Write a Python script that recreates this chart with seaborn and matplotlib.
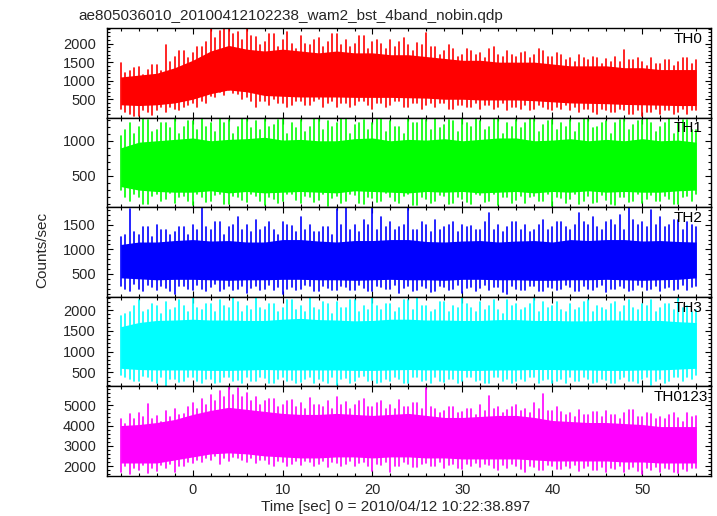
import numpy as np
import pandas as pd
import seaborn as sns
import matplotlib
matplotlib.use("Agg")
import matplotlib.pyplot as plt
from matplotlib.ticker import FixedLocator, MultipleLocator

TITLE = "ae805036010_20100412102238_wam2_bst_4band_nobin.qdp"
XLABEL = "Time [sec] 0 = 2010/04/12 10:22:38.897"
YLABEL = "Counts/sec"

bands = ["TH0", "TH1", "TH2", "TH3", "TH0123"]
colors = ["#ff0000", "#00ff00", "#0000ff", "#00ffff", "#ff00ff"]

# spikes (peak / dip) every 0.5 s, dense core every 2 s
half_seconds = [s / 2 for s in range(-16, 113)]
core_times = list(range(-8, 57, 2))

th0_peak = [1480, 1200, 1250, 1350, 1380, 1150, 1300, 1420, 1420, 1250,
            1970, 1500, 1650, 1800, 1800, 1600, 1750, 1900, 1900, 2050,
            2400, 2150, 2350, 2420, 2420, 2250, 2300, 2100, 2380, 2200,
            2180, 1950, 2050, 2250, 2250, 1900, 2100, 2300, 2000, 1850,
            2200, 2000, 1950, 2100, 2150, 1900, 2050, 2250, 2250, 1950,
            2100, 1900, 2000, 2200, 2200, 1850, 2050, 2100, 1980, 1850,
            2100, 1900, 2050, 2150, 1950, 1800, 2020, 1950, 2280, 1900,
            1900, 1700, 1800, 1950, 1850, 1650, 1700, 1850, 1800, 1700,
            1750, 1600, 1850, 1900, 1700, 1650, 1800, 1700, 1650, 1750,
            1780, 1600, 1700, 1850, 1800, 1650, 1650, 1750, 1700, 1550,
            1600, 1500, 1680, 1600, 1550, 1650, 1620, 1450, 1580, 1500,
            1650, 1500, 1820, 1550, 1550, 1600, 1500, 1400, 1600, 1450,
            1450, 1550, 1550, 1400, 1500, 1600, 1600, 1450, 1550]
th0_dip = [250, 150, 100, 50, 50, 200, 150, 80, 200, 300,
           150, 300, 250, 200, 300, 350, 400, 300, 450, 400,
           600, 550, 700, 620, 750, 680, 650, 500, 550, 450,
           300, 450, 450, 350, 500, 400, 400, 300, 350, 450,
           450, 350, 350, 450, 500, 300, 400, 450, 300, 400,
           400, 300, 350, 450, 450, 350, 250, 400, 400, 300,
           350, 450, 450, 300, 300, 400, 400, 250, 350, 400,
           300, 400, 400, 250, 250, 350, 350, 300, 300, 400,
           250, 350, 350, 250, 300, 400, 200, 300, 300, 250,
           350, 200, 250, 350, 300, 250, 200, 300, 250, 350,
           200, 300, 150, 250, 250, 150, 100, 250, 200, 150,
           150, 250, 200, 100, 100, 200, 50, 150, 150, 250,
           100, 200, 200, 100, 150, 250, 100, 200, 200]
th0_core_hi = [1100, 1150, 1200, 1350, 1550, 1800, 1950, 1850, 1800, 1850,
               1800, 1750, 1800, 1750, 1750, 1700, 1700, 1650, 1600, 1550,
               1550, 1500, 1500, 1500, 1450, 1400, 1400, 1400, 1350, 1350,
               1300, 1300, 1300]
th0_core_lo = [350, 330, 350, 400, 500, 650, 750, 700, 600, 580,
               560, 560, 560, 550, 550, 550, 540, 530, 500, 500,
               480, 480, 480, 460, 430, 400, 390, 380, 360, 350,
               340, 330, 330]

th1_peak = [1070, 1150, 1250, 1100, 1200, 1330, 1300, 1120, 1150, 1250,
            1250, 1180, 1330, 1100, 1200, 1280, 1280, 1150, 1330, 1200,
            1250, 1120, 1330, 1250, 1300, 1100, 1200, 1330, 1330, 1180,
            1280, 1150, 1330, 1200, 1220, 1300, 1330, 1100, 1250, 1180,
            1300, 1120, 1200, 1330, 1330, 1150, 1280, 1200, 1250, 1330,
            1330, 1100, 1220, 1250, 1300, 1150, 1250, 1330, 1330, 1120,
            1280, 1200, 1200, 1100, 1330, 1250, 1250, 1330, 1300, 1150,
            1330, 1180, 1220, 1300, 1280, 1120, 1330, 1250, 1200, 1330,
            1280, 1150, 1200, 1330, 1330, 1100, 1250, 1200, 1300, 1180,
            1250, 1330, 1330, 1120, 1220, 1280, 1300, 1150, 1250, 1200,
            1300, 1120, 1250, 1330, 1330, 1180, 1200, 1250, 1280, 1100,
            1250, 1300, 1330, 1150, 1220, 1280, 1300, 1330, 1250, 1120,
            1200, 1250, 1330, 1100, 1250, 1300, 1300, 1150, 1150]
th1_dip = [300, 200, 150, 250, 200, 100, 100, 220, 250, 150,
           180, 260, 120, 200, 220, 150, 90, 240, 200, 130,
           150, 230, 250, 100, 100, 210, 200, 160, 130, 240,
           220, 140, 90, 200, 180, 110, 150, 250, 240, 160,
           110, 220, 200, 130, 160, 250, 80, 190, 210, 120,
           150, 240, 230, 110, 100, 200, 190, 130, 140, 260,
           200, 150, 120, 220, 250, 90, 90, 200, 170, 120,
           140, 230, 210, 100, 110, 200, 180, 130, 100, 240,
           230, 130, 150, 250, 90, 200, 200, 110, 160, 220,
           120, 200, 220, 150, 140, 250, 80, 200, 190, 110,
           170, 250, 100, 140, 210, 120, 130, 230, 160, 100,
           90, 200, 200, 130, 150, 240, 110, 170, 230, 150,
           140, 220, 180, 100, 100, 200, 210, 150, 250]
th1_core_hi = [900, 980, 1000, 1020, 1040, 1000, 1020, 1030, 1050, 1010,
               1020, 1000, 1000, 1030, 1040, 1000, 1020, 1010, 1030, 1000,
               1020, 1040, 1040, 1000, 1010, 1030, 1000, 1020, 1000, 1030,
               1000, 1010, 980]
th1_core_lo = [350, 300, 280, 270, 270, 290, 260, 280, 260, 270,
               280, 270, 260, 290, 280, 270, 260, 280, 270, 280,
               260, 270, 280, 260, 280, 270, 290, 270, 280, 270,
               270, 290, 300]

th2_peak = [1250, 1300, 1820, 1350, 1300, 1450, 1450, 1250, 1500, 1400,
            1400, 1300, 1350, 1450, 1450, 1300, 1500, 1400, 1850, 1450,
            1400, 1550, 1550, 1300, 1450, 1500, 1650, 1400, 1500, 1350,
            1600, 1400, 1450, 1550, 1400, 1300, 1550, 1500, 1480, 1350,
            1650, 1400, 1500, 1350, 1350, 1450, 1450, 1300, 1820, 1500,
            1840, 1400, 1500, 1350, 1600, 1500, 1850, 1400, 1650, 1450,
            1550, 1400, 1450, 1500, 1850, 1400, 1400, 1550, 1500, 1350,
            1600, 1400, 1450, 1500, 1550, 1350, 1500, 1450, 1480, 1400,
            1400, 1550, 1750, 1400, 1500, 1350, 1450, 1550, 1550, 1400,
            1500, 1350, 1400, 1500, 1600, 1400, 1450, 1550, 1550, 1450,
            1400, 1500, 1750, 1550, 1500, 1650, 1450, 1400, 1550, 1600,
            1500, 1700, 1400, 1850, 1600, 1500, 1550, 1450, 1800, 1500,
            1650, 1450, 1500, 1600, 1600, 1400, 1550, 1500, 1450]
th2_dip = [250, 200, 150, 300, 200, 150, 280, 230, 180, 250,
           220, 150, 100, 250, 250, 200, 180, 280, 200, 150,
           230, 300, 150, 200, 260, 180, 200, 250, 120, 220,
           250, 180, 200, 280, 180, 230, 90, 200, 230, 170,
           200, 280, 260, 150, 150, 250, 220, 180, 180, 260,
           240, 170, 170, 280, 210, 150, 150, 260, 230, 190,
           200, 270, 110, 220, 250, 150, 180, 260, 220, 140,
           160, 250, 230, 180, 190, 280, 120, 210, 240, 160,
           210, 280, 170, 230, 230, 140, 100, 250, 200, 170,
           180, 260, 250, 150, 150, 230, 220, 170, 190, 270,
           230, 150, 160, 250, 200, 180, 240, 280, 130, 200,
           200, 250, 220, 160, 170, 280, 240, 180, 190, 260,
           150, 220, 230, 170, 200, 280, 180, 230, 250]
th2_core_hi = [1100, 1150, 1150, 1180, 1200, 1170, 1180, 1150, 1150, 1200,
               1200, 1170, 1150, 1180, 1180, 1200, 1200, 1160, 1150, 1170,
               1180, 1150, 1170, 1180, 1150, 1200, 1180, 1200, 1200, 1170,
               1180, 1160, 1150]
th2_core_lo = [420, 400, 380, 390, 390, 380, 370, 380, 380, 390,
               390, 380, 380, 370, 380, 390, 380, 380, 370, 390,
               390, 380, 380, 370, 370, 380, 380, 390, 380, 370,
               380, 390, 420]

th3_peak = [1850, 1900, 1950, 2100, 2250, 1950, 2000, 2150, 2100, 1900,
            2200, 2000, 2050, 2250, 2100, 1950, 2300, 2050, 2000, 2150,
            2150, 1950, 2250, 2100, 2050, 2300, 2200, 1950, 2100, 2000,
            2300, 2050, 2000, 2150, 2150, 1950, 2050, 2250, 2250, 2000,
            2100, 1950, 2300, 2050, 2000, 2200, 2150, 1900, 2200, 2050,
            2050, 2250, 2250, 1950, 2100, 2000, 2300, 2100, 2000, 2150,
            2150, 1950, 2050, 2250, 2250, 2000, 2300, 2100, 2100, 1950,
            2000, 2200, 2200, 1950, 2100, 2050, 2300, 2150, 2050, 1950,
            2200, 2000, 2100, 2250, 2000, 1900, 2250, 2100, 2150, 2000,
            2050, 2150, 2300, 1950, 2200, 2050, 2100, 2200, 2000, 1950,
            2150, 2000, 2050, 2200, 2250, 1950, 2100, 2050, 2000, 2150,
            2200, 1950, 2100, 2250, 2050, 2000, 2150, 2100, 2250, 1950,
            2050, 2150, 2150, 2000, 2300, 2050, 2100, 1950, 2000]
th3_dip = [450, 400, 350, 300, 300, 420, 400, 300, 250, 380,
           180, 350, 350, 280, 300, 400, 400, 300, 250, 350,
           350, 250, 280, 400, 400, 300, 320, 250, 380, 300,
           300, 400, 370, 250, 250, 350, 400, 300, 330, 250,
           280, 350, 380, 250, 350, 300, 250, 400, 200, 350,
           370, 250, 300, 400, 420, 300, 330, 250, 280, 350,
           300, 400, 350, 250, 250, 380, 380, 300, 320, 250,
           400, 300, 280, 350, 350, 250, 300, 400, 380, 300,
           330, 250, 250, 380, 400, 300, 350, 250, 290, 350,
           300, 400, 380, 250, 320, 350, 250, 300, 350, 250,
           400, 300, 300, 380, 350, 250, 280, 350, 330, 250,
           250, 350, 380, 300, 300, 250, 350, 400, 200, 300,
           350, 250, 300, 380, 380, 300, 400, 350, 450]
th3_core_hi = [1600, 1700, 1750, 1760, 1780, 1760, 1760, 1750, 1750, 1780,
               1800, 1770, 1760, 1740, 1750, 1780, 1780, 1760, 1760, 1750,
               1750, 1770, 1770, 1750, 1750, 1740, 1740, 1760, 1760, 1750,
               1750, 1720, 1700]
th3_core_lo = [600, 570, 560, 560, 560, 550, 550, 560, 570, 560,
               560, 560, 560, 550, 550, 560, 570, 560, 560, 550,
               550, 560, 560, 570, 570, 560, 560, 550, 550, 560,
               560, 580, 600]

sum_peak = [4300, 4100, 4550, 4300, 4600, 4400, 5050, 4300, 4450, 4200,
            4700, 4400, 4800, 4500, 4550, 4900, 5100, 4800, 5300, 5000,
            5500, 5200, 5700, 5400, 5900, 5500, 5850, 5400, 5600, 5200,
            5400, 5000, 5200, 5300, 5300, 4900, 5000, 5200, 5250, 4900,
            5100, 4800, 5350, 5000, 5000, 4900, 5200, 4800, 5400, 5000,
            5150, 4800, 5000, 5200, 5300, 4900, 4900, 5100, 5200, 4800,
            5000, 4800, 5250, 4900, 4900, 5100, 5100, 4800, 5870, 4900,
            4800, 4600, 4700, 4900, 4900, 4600, 4650, 4800, 4800, 4500,
            5000, 4700, 5450, 4800, 4900, 4600, 4750, 4900, 5000, 4700,
            4800, 4600, 5100, 4800, 5570, 4700, 4700, 4900, 4650, 4500,
            4600, 4400, 4750, 4500, 4500, 4650, 4650, 4400, 4700, 4500,
            4500, 4300, 4600, 4750, 4750, 4400, 4400, 4600, 4550, 4300,
            4400, 4300, 4500, 4600, 4350, 4200, 4600, 4400, 4450]
sum_dip = [1700, 2000, 1600, 1900, 1800, 2050, 1650, 1900, 1750, 2050,
           1900, 2100, 1700, 2000, 2000, 2200, 2150, 2300, 2200, 2400,
           2300, 2500, 2100, 2400, 2250, 2450, 2400, 2300, 2200, 2400,
           2150, 2300, 2300, 2100, 2000, 2250, 2200, 2000, 2100, 2250,
           2050, 2250, 2200, 2000, 2100, 2250, 1950, 2200, 2150, 2000,
           2100, 2250, 2000, 2150, 2200, 2000, 1750, 2100, 2050, 2200,
           1700, 2000, 2000, 2200, 2100, 1950, 1950, 2100, 2150, 2000,
           2000, 2200, 1900, 2050, 2100, 1900, 1850, 2100, 2000, 2150,
           1950, 2100, 2050, 1900, 1800, 2050, 1900, 2100, 2000, 1850,
           1700, 2000, 1950, 1800, 1800, 2050, 2000, 1850, 1850, 2000,
           1900, 2050, 1750, 1900, 2000, 1800, 1800, 1950, 1700, 1900,
           1850, 2000, 1700, 1850, 1950, 1750, 1600, 1900, 1800, 1950,
           1700, 1900, 1850, 1700, 1650, 1850, 1750, 1900, 1900]
sum_core_hi = [4000, 4050, 4150, 4300, 4550, 4750, 4900, 4800, 4700, 4600,
               4550, 4550, 4600, 4550, 4500, 4550, 4600, 4500, 4400, 4400,
               4450, 4500, 4500, 4400, 4250, 4200, 4150, 4150, 4100, 4050,
               3950, 3950, 3950]
sum_core_lo = [2150, 2150, 2150, 2300, 2450, 2600, 2650, 2600, 2500, 2450,
               2400, 2400, 2450, 2450, 2400, 2450, 2450, 2400, 2400, 2350,
               2350, 2350, 2350, 2300, 2250, 2250, 2250, 2250, 2200, 2200,
               2150, 2150, 2150]

peaks = [th0_peak, th1_peak, th2_peak, th3_peak, sum_peak]
dips = [th0_dip, th1_dip, th2_dip, th3_dip, sum_dip]
core_hi = [th0_core_hi, th1_core_hi, th2_core_hi, th3_core_hi, sum_core_hi]
core_lo = [th0_core_lo, th1_core_lo, th2_core_lo, th3_core_lo, sum_core_lo]

ylims = [(5, 2420), (57, 1329), (34, 1859), (165, 2318), (1508, 5934)]
yticks = [[500, 1000, 1500, 2000], [500, 1000], [500, 1000, 1500],
          [500, 1000, 1500, 2000], [2000, 3000, 4000, 5000]]
yminor = [100, 100, 100, 100, 200]
label_x = [0.9387, 0.9387, 0.9387, 0.9387, 0.9056]


def spikes_frame(peak, dip):
    rows = []
    for t, hi, lo in zip(half_seconds, peak, dip):
        rows.append({"t": t, "rate": lo, "bin": t})
        rows.append({"t": t, "rate": hi, "bin": t})
    return pd.DataFrame(rows)


sns.set_theme(style="ticks")
plt.rcParams["font.family"] = ["Liberation Sans", "DejaVu Sans"]
plt.rcParams["axes.linewidth"] = 1.0

fig = plt.figure(figsize=(7.17, 5.16), dpi=100)
left, width = 107 / 717, 604 / 717
panel_h = 89.6 / 516
top = 1 - 28 / 516

for i in range(5):
    ax = fig.add_axes([left, top - (i + 1) * panel_h, width, panel_h])
    c = colors[i]
    ax.fill_between(core_times, core_lo[i], core_hi[i], color=c, lw=0)
    df = spikes_frame(peaks[i], dips[i])
    sns.lineplot(data=df, x="t", y="rate", units="bin", estimator=None,
                 sort=False, color=c, lw=1.2, ax=ax, legend=False)

    ax.set_xlim(-9.53, 57.65)
    ax.set_ylim(*ylims[i])
    ax.xaxis.set_major_locator(MultipleLocator(10))
    ax.xaxis.set_minor_locator(MultipleLocator(2))
    ax.yaxis.set_major_locator(FixedLocator(yticks[i]))
    ax.yaxis.set_minor_locator(MultipleLocator(yminor[i]))
    ax.tick_params(which="both", direction="in", top=True, right=True,
                   color="black", width=0.8, labelsize=10.5)
    ax.tick_params(which="major", length=4.5)
    ax.tick_params(which="minor", length=2.5)
    ax.tick_params(axis="y", pad=8)
    ax.tick_params(axis="x", pad=5)
    ax.set_xlabel("")
    ax.set_ylabel("")
    for sp in ax.spines.values():
        sp.set_color("black")
        sp.set_visible(True)
    if i < 4:
        ax.tick_params(labelbottom=False)
    ax.text(label_x[i], 0.88, bands[i], transform=ax.transAxes,
            ha="left", va="center", fontsize=11, color="black")

fig.text(78 / 717, 1 - 15.7 / 516, TITLE, ha="left", va="center", fontsize=11)
fig.text(42 / 717, 1 - 250 / 516, YLABEL, rotation=90, ha="center",
         va="center", fontsize=11)
fig.text(396 / 717, 1 - 507 / 516, XLABEL, ha="center", va="center",
         fontsize=11)

fig.savefig("out.png", dpi=100, facecolor="white")
